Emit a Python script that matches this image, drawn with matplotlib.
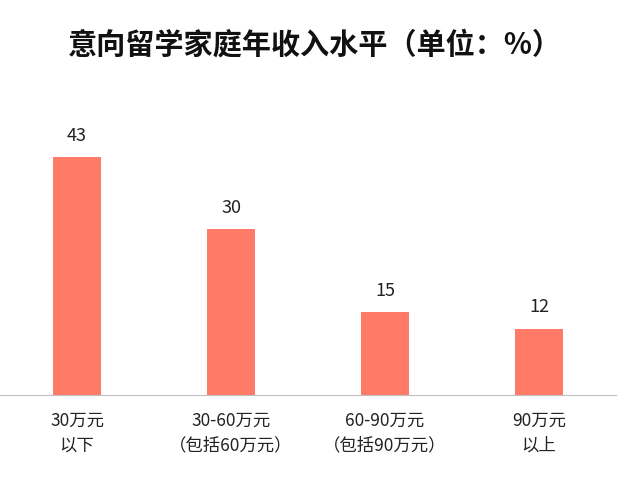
import matplotlib
matplotlib.use("Agg")
import matplotlib.pyplot as plt

plt.rcParams['font.family'] = ['Noto Sans CJK SC', 'DejaVu Sans']

categories = ["30万元\n以下", "30-60万元\n（包括60万元）", "60-90万元\n（包括90万元）", "90万元\n以上"]
values = [43, 30, 15, 12]
title = "意向留学家庭年收入水平（单位：%）"

fig = plt.figure(figsize=(6.3, 4.88), dpi=100)
ax = fig.add_axes([0.0, 0.1906, 616/630, 0.605])
x = list(range(len(values)))
ax.bar(x, values, width=0.31, color="#FF7B67")
for xi, v in zip(x, values):
    ax.text(xi, v + 2.2, str(v), ha="center", va="bottom", fontsize=13, color="#222222")
ax.set_xlim(-0.5, 3.5)
ax.set_ylim(0, 53.3)
ax.set_xticks(x)
ax.set_xticklabels(categories, fontsize=12.5, color="#222222", linespacing=1.5)
ax.tick_params(axis='x', length=0, pad=12)
ax.set_yticks([])
for s in ["top", "right", "left"]:
    ax.spines[s].set_visible(False)
ax.spines["bottom"].set_color("#BFBFBF")
fig.text(0.5, 1 - 45/488, title, ha="center", va="center", fontsize=21, fontweight="bold", color="#111111")
fig.savefig("out.png", dpi=100)
